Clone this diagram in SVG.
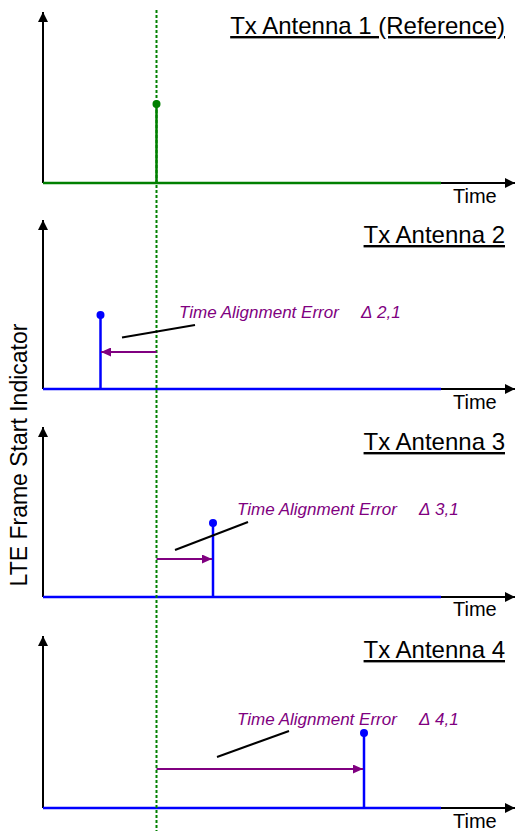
<svg xmlns="http://www.w3.org/2000/svg" width="515" height="831" viewBox="0 0 515 831">
<defs>
<marker id="ah" viewBox="0 0 10 10" refX="10" refY="5" markerWidth="10" markerHeight="10" markerUnits="userSpaceOnUse" orient="auto"><path d="M0,0 L10,5 L0,10 z" fill="#000"/></marker>
<marker id="ap" viewBox="0 0 10 9" refX="10" refY="4.5" markerWidth="10" markerHeight="9" markerUnits="userSpaceOnUse" orient="auto"><path d="M0,0 L10,4.5 L0,9 z" fill="#800080"/></marker>
</defs>
<style>
.ax{stroke:#000;stroke-width:2;fill:none}
.g{stroke:#008000;stroke-width:2.5;fill:none}
.b{stroke:#0000ff;stroke-width:2.5;fill:none}
.p{stroke:#800080;stroke-width:2;fill:none}
.ld{stroke:#000;stroke-width:2;fill:none}
.t{font-family:"Liberation Sans",Arial,sans-serif;fill:#000}
.title{font-size:24px;text-decoration:underline}
.time{font-size:20px}
.ann{font-family:"Liberation Sans",Arial,sans-serif;font-size:17px;font-style:italic;fill:#800080}
</style>
<rect width="515" height="831" fill="#fff"/>
<g id="ylabel"><text class="t" font-size="23" transform="translate(27,455) rotate(-90)" text-anchor="middle">LTE Frame Start Indicator</text></g>
<g id="panel1">
<line class="ax" x1="43" y1="183" x2="43" y2="12" marker-end="url(#ah)"/>
<line class="ax" x1="43" y1="183" x2="515" y2="183" marker-end="url(#ah)"/>
<line class="g" x1="43" y1="183" x2="441" y2="183"/>
<line class="g" x1="156.5" y1="183" x2="156.5" y2="104"/>
<circle cx="156.5" cy="104" r="4" fill="#008000"/>
<text class="t title" x="505" y="34" text-anchor="end">Tx Antenna 1 (Reference)</text>
<text class="t time" x="453" y="203">Time</text>
</g>
<g id="panel2">
<line class="ax" x1="43" y1="389" x2="43" y2="220" marker-end="url(#ah)"/>
<line class="ax" x1="43" y1="389" x2="515" y2="389" marker-end="url(#ah)"/>
<line class="b" x1="43" y1="389" x2="441" y2="389"/>
<line class="b" x1="100.5" y1="389" x2="100.5" y2="315"/>
<circle cx="100.5" cy="315" r="4" fill="#0000ff"/>
<text class="t title" x="505" y="243" text-anchor="end">Tx Antenna 2</text>
<text class="t time" x="453" y="409">Time</text>
</g>
<g id="panel3">
<line class="ax" x1="43" y1="597" x2="43" y2="427" marker-end="url(#ah)"/>
<line class="ax" x1="43" y1="597" x2="515" y2="597" marker-end="url(#ah)"/>
<line class="b" x1="43" y1="597" x2="441" y2="597"/>
<line class="b" x1="213" y1="597" x2="213" y2="523"/>
<circle cx="213" cy="523" r="4" fill="#0000ff"/>
<text class="t title" x="505" y="450" text-anchor="end">Tx Antenna 3</text>
<text class="t time" x="453" y="616">Time</text>
</g>
<g id="panel4">
<line class="ax" x1="43" y1="808" x2="43" y2="636" marker-end="url(#ah)"/>
<line class="ax" x1="43" y1="808" x2="515" y2="808" marker-end="url(#ah)"/>
<line class="b" x1="43" y1="808" x2="441" y2="808"/>
<line class="b" x1="364" y1="808" x2="364" y2="733"/>
<circle cx="364" cy="733" r="4" fill="#0000ff"/>
<text class="t title" x="505" y="658" text-anchor="end">Tx Antenna 4</text>
<text class="t time" x="453" y="828">Time</text>
</g>
<g id="connectors">
<line x1="156.5" y1="10" x2="156.5" y2="831" stroke="#008000" stroke-width="2" stroke-dasharray="3,2"/>
<line class="p" x1="156.5" y1="352" x2="101" y2="352" marker-end="url(#ap)"/>
<line class="ld" x1="122" y1="337.5" x2="195" y2="325"/>
<text class="ann" x="179" y="318">Time Alignment Error <tspan x="361">Δ</tspan><tspan x="377">2,1</tspan></text>
<line class="p" x1="156.5" y1="559" x2="212" y2="559" marker-end="url(#ap)"/>
<line class="ld" x1="175" y1="550" x2="248" y2="522"/>
<text class="ann" x="237" y="515">Time Alignment Error <tspan x="419">Δ</tspan><tspan x="435">3,1</tspan></text>
<line class="p" x1="156.5" y1="769" x2="363" y2="769" marker-end="url(#ap)"/>
<line class="ld" x1="217" y1="757" x2="289" y2="731"/>
<text class="ann" x="237" y="725">Time Alignment Error <tspan x="419">Δ</tspan><tspan x="435">4,1</tspan></text>
</g>
</svg>
